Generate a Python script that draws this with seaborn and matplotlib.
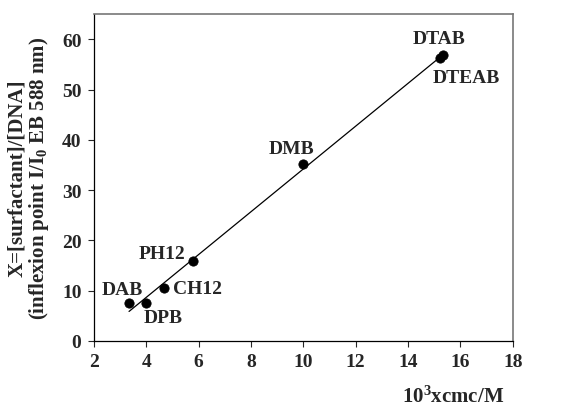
import numpy as np
import pandas as pd
import matplotlib
matplotlib.use("Agg")
import matplotlib.pyplot as plt
import seaborn as sns

# values
surfactants = ["DAB", "DPB", "CH12", "PH12", "DMB", "DTAB", "DTEAB"]
cmc = [3.34, 3.97, 4.69, 5.79, 10.0, 15.34, 15.21]
x_inflexion = [7.6, 7.6, 10.5, 16.0, 35.1, 56.8, 56.3]
# label offsets in pixels (dx, dy) from each point
label_offsets = [(-7, 13), (18, -15), (33, 0), (-31, 7), (-12, 16), (-4, 17), (27, -20)]

df = pd.DataFrame({"name": surfactants, "cmc": cmc, "X": x_inflexion})

sns.set_style("ticks")
plt.rcParams["font.family"] = ["Liberation Serif", "DejaVu Serif"]
plt.rcParams["font.weight"] = "bold"
plt.rcParams["mathtext.fontset"] = "custom"
plt.rcParams["mathtext.rm"] = "Liberation Serif:bold"
plt.rcParams["mathtext.it"] = "Liberation Serif:bold"
plt.rcParams["mathtext.bf"] = "Liberation Serif:bold"

fig = plt.figure(figsize=(5.66, 4.10), dpi=100)
ax = fig.add_axes([0.166, 0.166, 0.740, 0.797])

sns.scatterplot(data=df, x="cmc", y="X", color="black", s=45, edgecolor="black", ax=ax, zorder=3)

# linear fit through the points
slope, intercept = np.polyfit(df["cmc"], df["X"], 1)
xs = np.array([df["cmc"].min(), df["cmc"].max()])
ax.plot(xs, slope * xs + intercept, color="black", lw=0.9)

for (name, xv, yv), (dx, dy) in zip(zip(surfactants, cmc, x_inflexion), label_offsets):
    ax.annotate(name, (xv, yv), xytext=(dx, dy), textcoords="offset pixels",
                ha="center", va="center", fontsize=14, fontweight="bold")

ax.set_xlim(2, 18)
ax.set_ylim(0, 65)
ax.set_xticks(range(2, 19, 2))
ax.set_yticks(range(0, 61, 10))
ax.tick_params(direction="out", length=4, labelsize=14, width=0.8, pad=5)
for lab in ax.get_xticklabels() + ax.get_yticklabels():
    lab.set_fontweight("bold")

for side in ["top", "right"]:
    ax.spines[side].set_visible(True)
    ax.spines[side].set_color("#777777")
    ax.spines[side].set_linewidth(1.2)
for side in ["left", "bottom"]:
    ax.spines[side].set_color("black")
    ax.spines[side].set_linewidth(0.9)

ax.set_xlabel("")
ax.set_ylabel("X=[surfactant]/[DNA]\n(inflexion point I/I$_0$ EB 588 nm)",
              fontsize=15, fontweight="bold", linespacing=1.0, labelpad=8)
fig.text(0.80, 0.03, "10$^3$xcmc/M", ha="center", va="center", fontsize=15, fontweight="bold")

fig.savefig("out.png", dpi=100)
